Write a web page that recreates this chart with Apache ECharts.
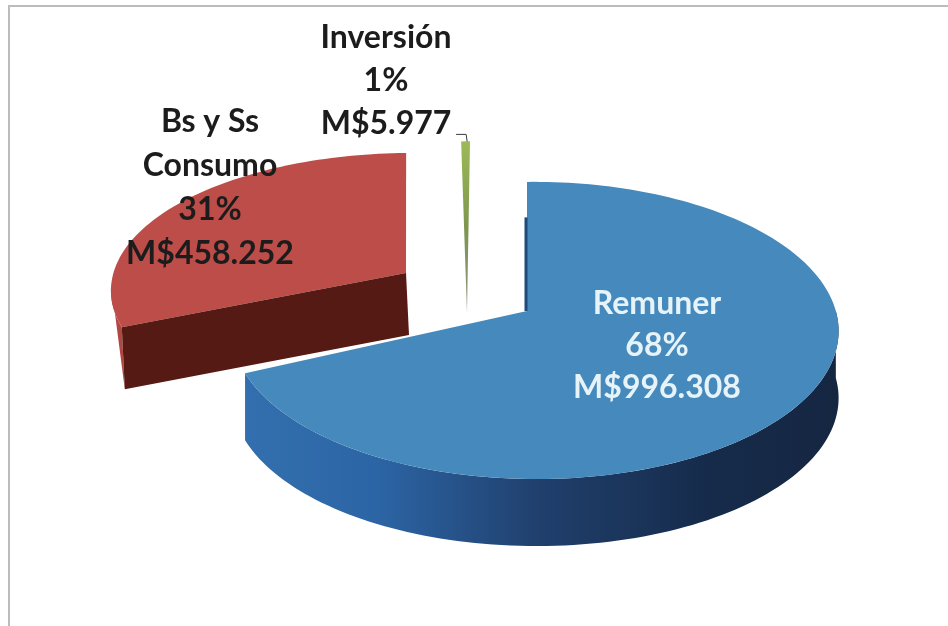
<!DOCTYPE html>
<html><head><meta charset="utf-8">
<style>html,body{margin:0;padding:0;background:#fff}#c{width:948px;height:626px;filter:blur(0.5px)}</style>
<script src="https://cdn.jsdelivr.net/npm/echarts@6/dist/echarts.min.js"></script>
</head><body><div id="c"></div>
<script>
const categories = ['Remuner', 'Bs y Ss\nConsumo', 'Inversión'];
const values = [996308, 458252, 5977];
const percentLabels = ['68%', '31%', '1%'];
const amountLabels = ['M$996.308', 'M$458.252', 'M$5.977'];

const chart = echarts.init(document.getElementById('c'), null, {renderer: 'canvas'});
const total = values.reduce((a, b) => a + b, 0);
const K = 0.131, M = 0.027, AX = 300.5, BY = 146;

const looks = [
  {cx: 527, cy: 311, sx: 1, sy: 1, rot: 0, dx: 0, dy: 67, z: 3, label: [657, 346], lh: 42, color: '#e6f3f8'},
  {cx: 406, cy: 273, sx: 1, sy: .93, rot: 1.5, dx: 3, dy: 62, z: 1, label: [210, 188], lh: 44, color: '#1c1c1c'},
  {cx: 467, cy: 313, sx: 1.3, sy: 1.33, rot: .5, dx: 0, dy: 0, z: 2, label: [386, 81], lh: 43, color: '#1c1c1c'}
];
function project(look, deg, r) {
  const t = (deg + look.rot) * Math.PI / 180;
  const X = Math.sin(t) * r, Y = Math.cos(t) * r;
  const w = 1 + K * Y - M * X;
  return [look.cx + look.sx * AX * X / w, look.cy - look.sy * BY * Y / w];
}
function arcPts(look, a, b, d, scale) {
  const pts = [];
  const n = Math.max(2, Math.ceil(Math.abs(b - a) / 1.5));
  for (let i = 0; i <= n; i++) {
    const p = project(look, a + (b - a) * i / n, scale || 1);
    pts.push([p[0] + (d ? look.dx : 0), p[1] + (d ? look.dy : 0)]);
  }
  return pts;
}
const grad = (stops) => new echarts.graphic.LinearGradient(0, 0, 1, 0,
  stops.map(s => ({offset: s[0], color: s[1]})));

function renderItem(params, api) {
  const i = params.dataIndex, look = looks[i];
  let start = 0;
  for (let j = 0; j < i; j++) start += values[j] / total * 360;
  const end = start + api.value(0) / total * 360;
  const apex = [look.cx, look.cy];
  const top = [apex].concat(arcPts(look, start, end, false));
  const children = [];
  const poly = (points, fill, z2) => children.push({
    type: 'polygon', z2: look.z * 10 + z2, shape: {points}, style: {fill}, silent: true});

  if (i === 0) {
    const upper = arcPts(look, 90, end, false);
    const lower = arcPts(look, 90, end, true).reverse();
    poly(upper.concat(lower), grad([[0, '#336fae'], [.22, '#2c65a5'], [.5, '#203f6c'], [.78, '#162b4b'], [1, '#152641']]), 0);
    poly(top, '#4689bc', 2);
    const edge = project(look, start, .7);
    children.push({type: 'line', z2: look.z * 10 + 3, silent: true,
      shape: {x1: apex[0] - 1, y1: apex[1], x2: edge[0] - 1, y2: edge[1]},
      style: {stroke: '#1f4a7c', lineWidth: 3}});
  } else if (i === 1) {
    const band = arcPts(look, start, start + 18, false);
    const low = project(look, start, 1);
    poly(band.concat([[low[0] + look.dx, low[1] + look.dy]]), '#b24742', 0);
    poly(top, '#bd4d48', 2);
    const rim = project(look, start, 1);
    poly([apex, rim, [rim[0] + look.dx, rim[1] + look.dy], [apex[0] + look.dx, apex[1] + look.dy]], '#551a14', 3);
  } else {
    poly(top, new echarts.graphic.LinearGradient(0, 0, 0, 1, [
      {offset: 0, color: '#9dba55'}, {offset: .5, color: '#7d9650'}, {offset: 1, color: '#8e9480'}]), 2);
    const rimEnd = project(look, start, 1);
    children.push({type: 'polyline', z2: look.z * 10 + 4, silent: true,
      shape: {points: [[rimEnd[0] - 5, rimEnd[1] - 7], [rimEnd[0] + 5, rimEnd[1] - 7], [rimEnd[0] + 6, rimEnd[1]]]},
      style: {stroke: '#3a3a3a', lineWidth: 1, fill: null}});
  }
  children.push({type: 'text', z2: 100, silent: true, x: look.label[0], y: look.label[1],
    style: {text: categories[i] + '\n' + percentLabels[i] + '\n' + amountLabels[i],
      fill: look.color, font: 'bold 32px Lato', lineHeight: look.lh, align: 'center', verticalAlign: 'middle'}});
  return {type: 'group', children};
}

chart.setOption({
  animation: false,
  backgroundColor: '#ffffff',
  graphic: [{type: 'polyline', silent: true, z: -1,
    shape: {points: [[9, 640], [9, 6], [950, 6]]},
    style: {fill: null, stroke: '#bcbcbc', lineWidth: 2}}],
  series: [{type: 'custom', coordinateSystem: 'none', renderItem,
    data: values.map((v, i) => ({name: categories[i], value: [v]}))}]
});
</script></body></html>
